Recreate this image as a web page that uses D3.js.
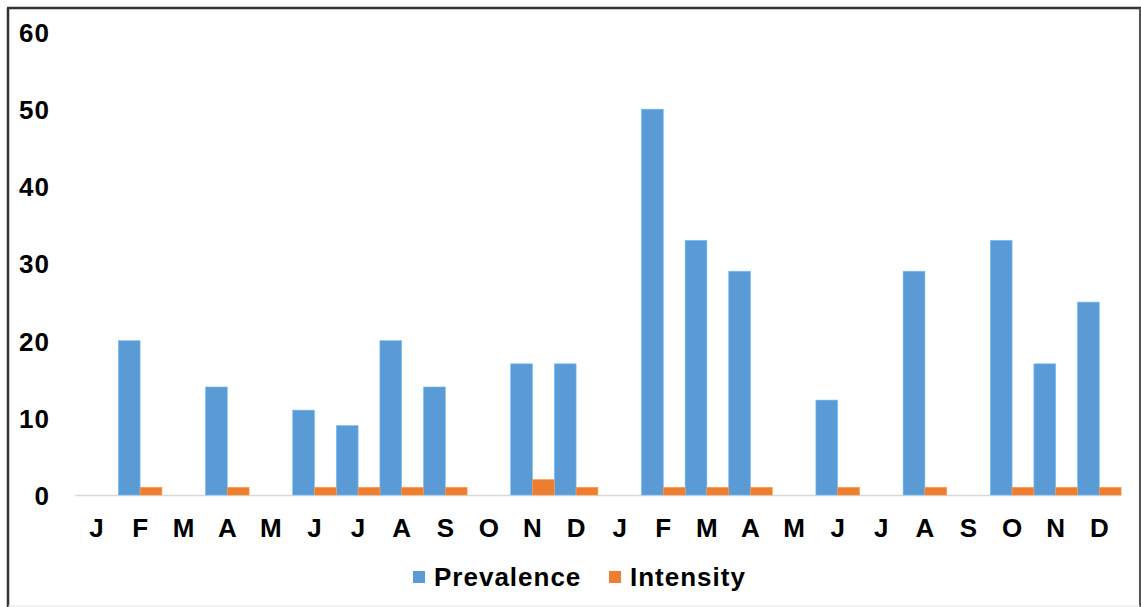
<!DOCTYPE html>
<html>
<head>
<meta charset="utf-8">
<script src="https://cdn.jsdelivr.net/npm/d3@7"></script>
<style>
  body { margin: 0; background: #fff; }
  svg { display: block; font-family: "Liberation Sans", Arial, sans-serif; }
  .axis text { font-weight: bold; fill: #000; }
</style>
</head>
<body>
<svg id="chart" width="1141" height="607"></svg>
<script>
  // Données (deux années, mois par mois)
  var months = ["J", "F", "M", "A", "M", "J", "J", "A", "S", "O", "N", "D",
                "J", "F", "M", "A", "M", "J", "J", "A", "S", "O", "N", "D"];
  var prevalence = [0, 20, 0, 14, 0, 11, 9, 20, 14, 0, 17, 17,
                    0, 50, 33, 29, 0, 12.3, 0, 29, 0, 33, 17, 25];
  var intensity = [0, 1, 0, 1, 0, 1, 1, 1, 1, 0, 2, 1,
                   0, 1, 1, 1, 0, 1, 0, 1, 0, 1, 1, 1];
  var yTicks = [0, 10, 20, 30, 40, 50, 60];
  var seriesNames = ["Prevalence", "Intensity"];
  var colors = ["#5B9BD5", "#ED7D31"];

  var svg = d3.select("#chart");

  /***** Cadre *****/
  svg.append("line").attr("x1", 8).attr("y1", 8).attr("x2", 8).attr("y2", 607)
    .attr("stroke", "#333").attr("stroke-width", 2.5);
  svg.append("line").attr("x1", 7).attr("y1", 8).attr("x2", 1141).attr("y2", 8)
    .attr("stroke", "#333").attr("stroke-width", 2.5);
  svg.append("line").attr("x1", 1140).attr("y1", 8).attr("x2", 1140).attr("y2", 607)
    .attr("stroke", "#555").attr("stroke-width", 2);
  svg.append("line").attr("x1", 8).attr("y1", 606).attr("x2", 1140).attr("y2", 606)
    .attr("stroke", "#e6e6e6").attr("stroke-width", 1);

  /***** Échelles *****/
  var idx = d3.range(months.length);
  var x = d3.scaleBand().domain(idx).range([74.7, 1121.1]).padding(0);
  var sub = d3.scaleBand().domain([0, 1]).range([0, x.bandwidth()]).padding(0);
  var y = d3.scaleLinear().domain([0, 60]).range([495, 32]);

  /***** Axes *****/
  var yAxis = d3.axisLeft(y).tickValues(yTicks).tickSize(0).tickPadding(0);
  svg.append("g").attr("class", "axis")
    .attr("transform", "translate(50,0)")
    .call(yAxis)
    .call(function (g) { g.select(".domain").remove(); })
    .selectAll("text")
    .style("font-size", "26px").style("letter-spacing", "1px")
    .attr("dy", "0.36em");

  var xAxis = d3.axisBottom(x).tickFormat(function (i) { return months[i]; })
    .tickSize(0).tickPadding(0);
  var xg = svg.append("g").attr("class", "axis")
    .attr("transform", "translate(0," + y(0) + ")")
    .call(xAxis);
  xg.select(".domain").attr("stroke", "#d9d9d9").attr("stroke-width", 1.5);
  xg.selectAll("text")
    .style("font-size", "26px").style("letter-spacing", "1px")
    .attr("dx", "0.5px").attr("y", 33).attr("dy", "0.36em");

  /***** Barres *****/
  var series = [prevalence, intensity];
  series.forEach(function (values, s) {
    svg.append("g").selectAll("rect")
      .data(values)
      .enter()
      .append("rect")
      .attr("x", function (d, i) { return x(i) + sub(s); })
      .attr("width", sub.bandwidth())
      .attr("y", function (d) { return y(d); })
      .attr("height", function (d) { return y(0) - y(d); })
      .attr("fill", colors[s])
      .attr("stroke", d3.color(colors[s]).brighter(0.6))
      .attr("stroke-width", 0.6);
  });

  /***** Légende *****/
  var legendX = [413, 609];
  var legend = svg.append("g").selectAll("g")
    .data(seriesNames)
    .enter()
    .append("g")
    .attr("transform", function (d, i) { return "translate(" + legendX[i] + ",571)"; });
  legend.append("rect").attr("width", 12).attr("height", 12)
    .attr("fill", function (d, i) { return colors[i]; });
  legend.append("text")
    .attr("x", 21).attr("y", 6).attr("dy", "0.36em")
    .style("font-size", "26px").style("font-weight", "bold")
    .style("letter-spacing", "1px")
    .text(function (d) { return d; });
</script>
</body>
</html>
